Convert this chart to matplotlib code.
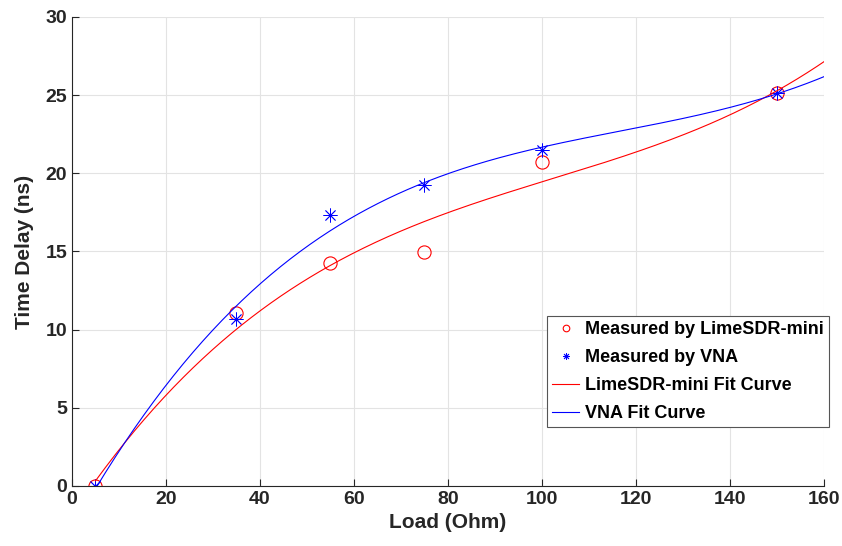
import numpy as np
import matplotlib.pyplot as plt

plt.rcParams['font.family'] = ['Liberation Sans', 'DejaVu Sans']
plt.rcParams['font.weight'] = 'bold'

# measured time delay vs load
load = [5, 35, 55, 75, 100, 150]
delay_lime = [0.0, 11.05, 14.25, 14.95, 20.75, 25.12]
delay_vna = [0.0, 10.68, 17.32, 19.25, 21.48, 25.12]

# cubic fit curves
xf = np.linspace(5, 160, 300)
p_lime = np.polyfit(load, delay_lime, 3)
p_vna = np.polyfit(load, delay_vna, 3)

fig = plt.figure(figsize=(8.42, 5.46), dpi=100)
ax = fig.add_axes([0.0855, 0.1099, 0.893, 0.859])

ax.plot(load, delay_lime, 'o', color='red', mfc='none', ms=9.5, mew=0.8,
        label='Measured by LimeSDR-mini')
ax.plot(load, delay_vna, marker=(8, 2, 0), ls='none', color='blue', ms=10, mew=0.6,
        label='Measured by VNA')
ax.plot(xf, np.polyval(p_lime, xf), color='red', lw=0.8, label='LimeSDR-mini Fit Curve')
ax.plot(xf, np.polyval(p_vna, xf), color='blue', lw=0.8, label='VNA Fit Curve')

ax.set_xlim(0, 160)
ax.set_ylim(0, 30)
ax.set_xticks(np.arange(0, 161, 20))
ax.set_yticks(np.arange(0, 31, 5))
ax.grid(True, color='#e3e3e3', lw=0.8)
ax.set_axisbelow(True)
for s in ['top', 'right']:
    ax.spines[s].set_visible(False)
for s in ['left', 'bottom']:
    ax.spines[s].set_color('#262626')
    ax.spines[s].set_linewidth(0.8)
ax.tick_params(direction='in', length=5, width=0.8, color='#262626',
               labelsize=14, labelcolor='#262626')
for t in ax.get_xticklabels() + ax.get_yticklabels():
    t.set_fontweight('bold')
ax.set_xlabel('Load (Ohm)', fontsize=15, fontweight='bold', color='#262626', labelpad=4)
ax.set_ylabel('Time Delay (ns)', fontsize=15, fontweight='bold', color='#262626', labelpad=8)

leg = ax.legend(loc='upper right', bbox_to_anchor=(829 / 842, 1 - 316 / 546),
                bbox_transform=fig.transFigure, borderaxespad=0, fontsize=13,
                fancybox=False, framealpha=1, edgecolor='#555555',
                handlelength=1.5, markerscale=0.5, labelspacing=0.6,
                handletextpad=0.3, borderpad=0.3)
leg.get_frame().set_linewidth(0.8)

fig.savefig('out.png', dpi=100)
